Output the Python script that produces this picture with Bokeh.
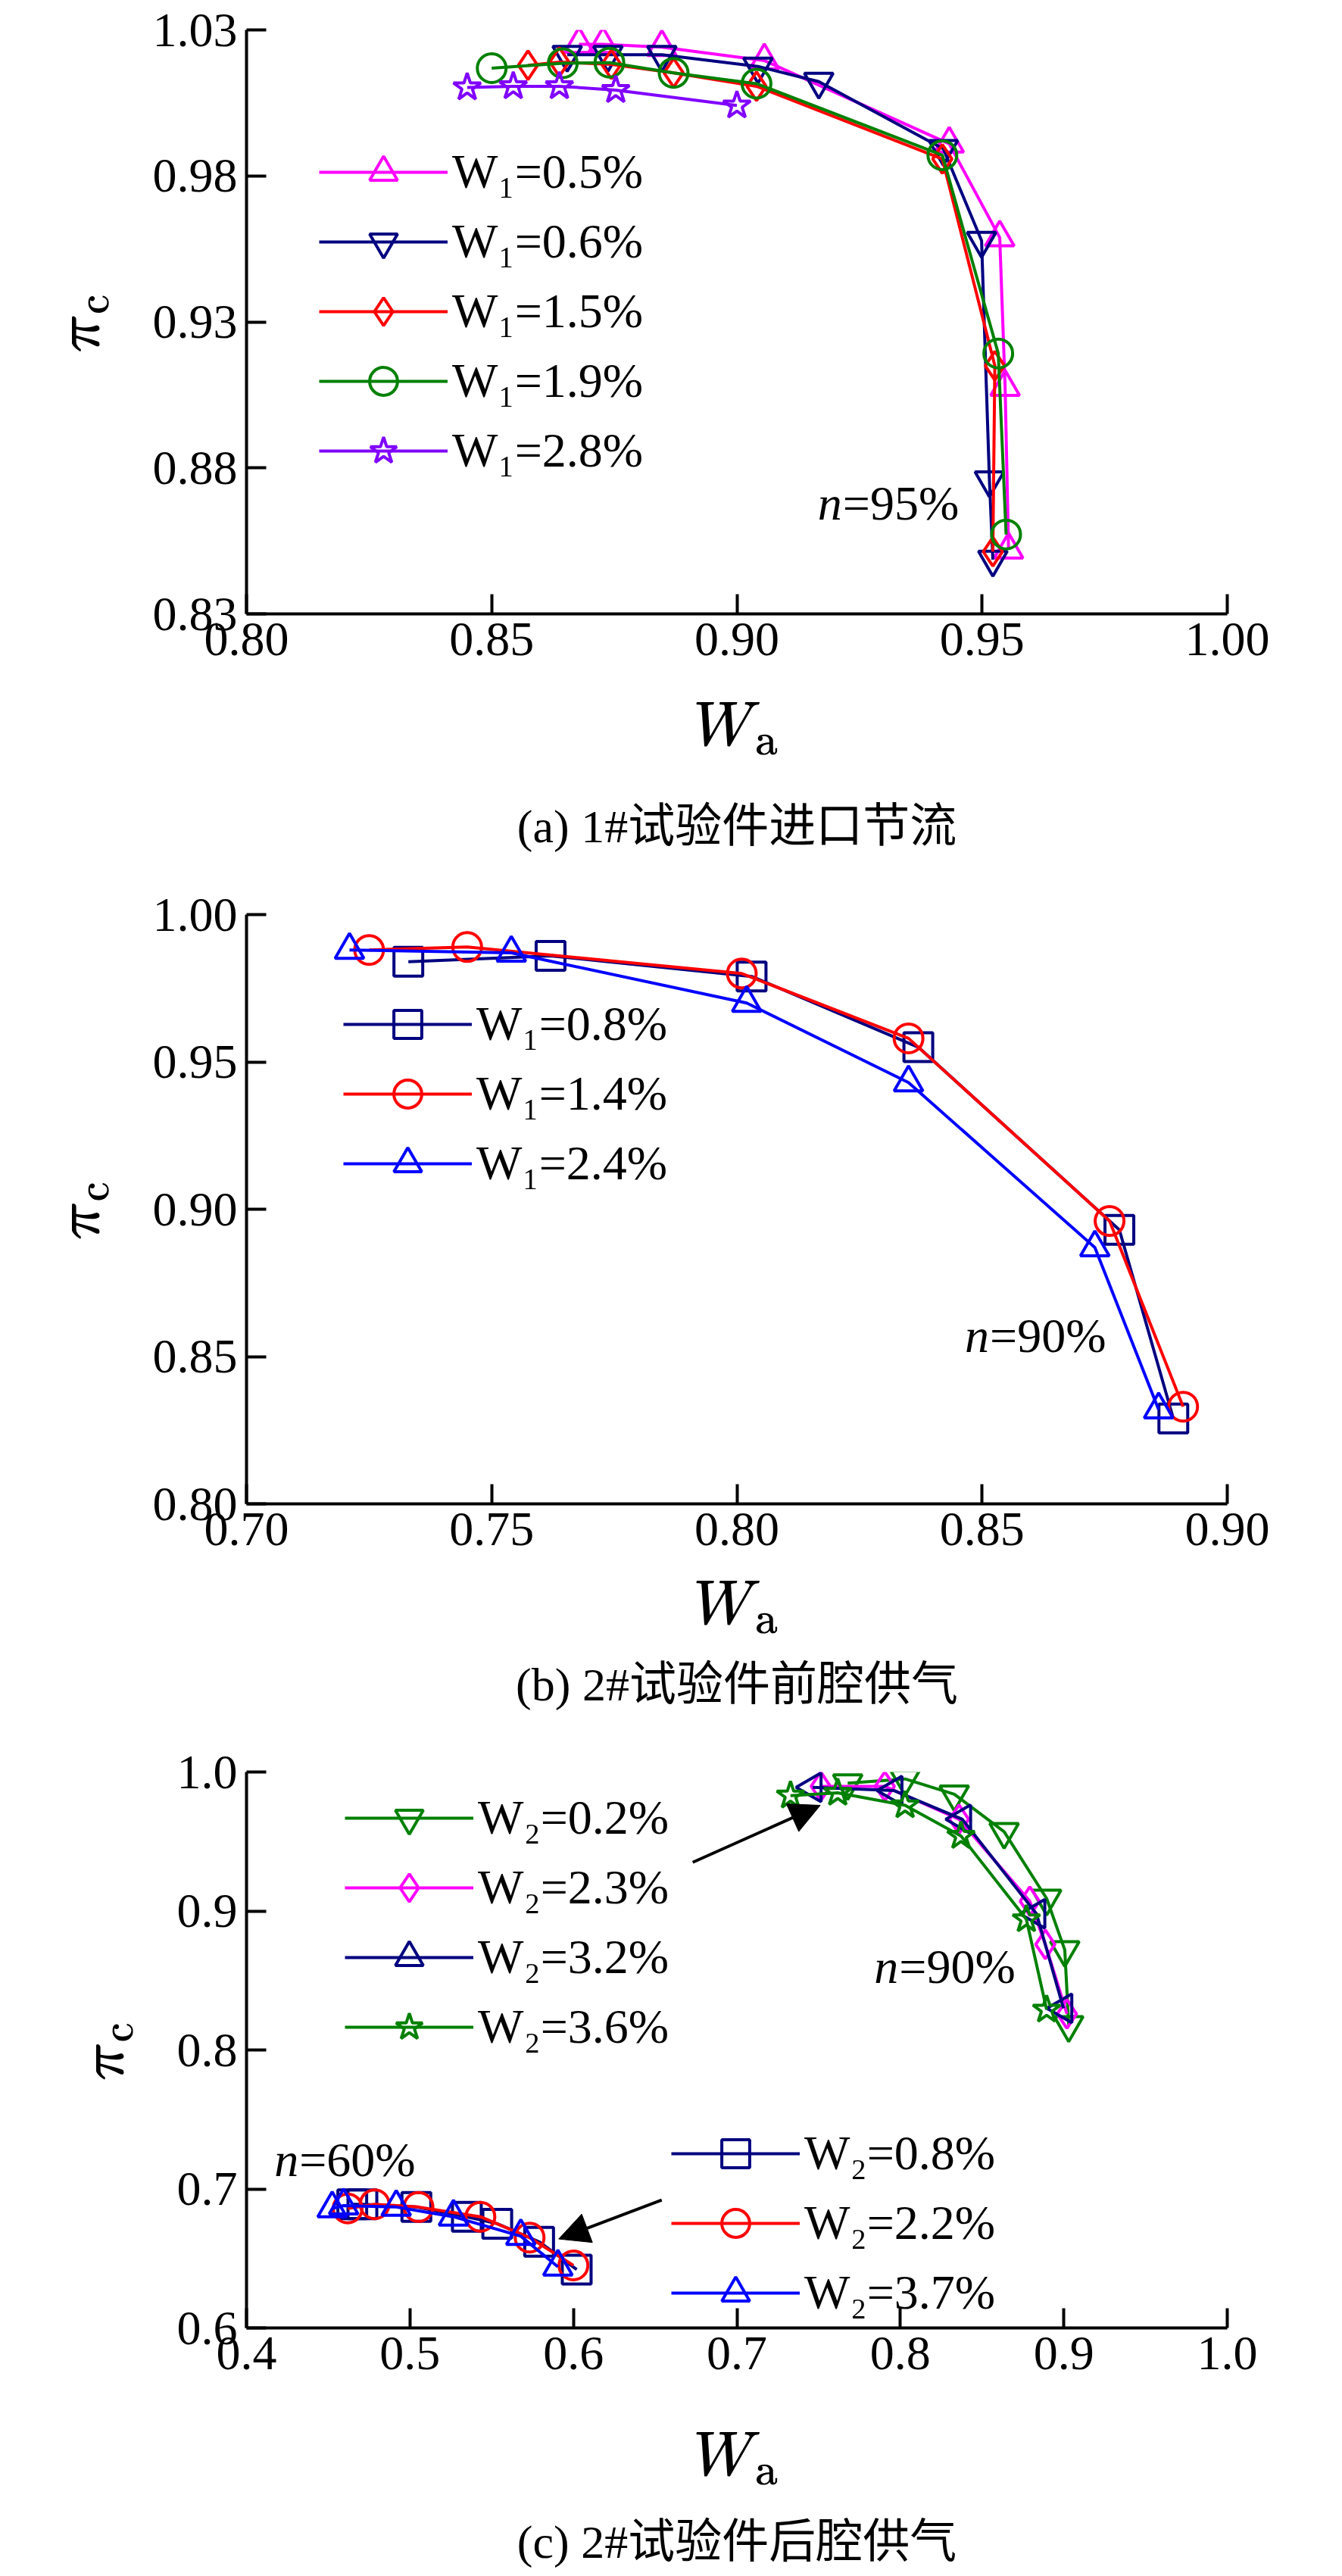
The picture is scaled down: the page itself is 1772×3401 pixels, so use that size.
import math
from bokeh.plotting import figure
from bokeh.layouts import column
from bokeh.models import Legend, LegendItem, Label, Arrow, NormalHead, Range1d, FixedTicker, PrintfTickFormatter, Title
from bokeh.embed import file_html
from bokeh.resources import INLINE

FONT = "Liberation Serif, Noto Sans CJK SC"

# ---- panel (a) data ----
a_names = ["W₁=0.5%", "W₁=0.6%", "W₁=1.5%", "W₁=1.9%", "W₁=2.8%"]
a_x = [
    [0.8678, 0.8727, 0.8847, 0.9056, 0.9433, 0.9536, 0.9547, 0.9554],
    [0.8654, 0.8737, 0.8847, 0.9043, 0.9167, 0.9421, 0.9499, 0.9515, 0.9522],
    [0.8574, 0.8638, 0.8744, 0.8871, 0.9040, 0.9419, 0.9526, 0.9522],
    [0.8500, 0.8645, 0.8740, 0.8871, 0.9040, 0.9419, 0.9533, 0.9549],
    [0.8450, 0.8544, 0.8638, 0.8753, 0.9000],
]
a_y = [
    [1.0251, 1.0251, 1.0241, 1.0195, 0.9910, 0.9589, 0.9077, 0.8520],
    [1.0215, 1.0215, 1.0215, 1.0175, 1.0123, 0.9893, 0.9578, 0.8758, 0.8486],
    [1.0179, 1.0190, 1.0182, 1.0153, 1.0107, 0.9858, 0.9150, 0.8513],
    [1.0169, 1.0186, 1.0188, 1.0153, 1.0116, 0.9871, 0.9192, 0.8572],
    [1.0103, 1.0107, 1.0107, 1.0094, 1.0041],
]
a_colors = ["#FF00FF", "#000080", "#FF0000", "#008000", "#8000FF"]
a_markers = ["triangle", "inverted_triangle", "diamond", "circle", "star"]
a_xticks = [0.80, 0.85, 0.90, 0.95, 1.00]
a_yticks = [0.83, 0.88, 0.93, 0.98, 1.03]

# ---- panel (b) data ----
b_names = ["W₁=0.8%", "W₁=1.4%", "W₁=2.4%"]
b_x = [
    [0.733, 0.762, 0.803, 0.837, 0.878, 0.889],
    [0.725, 0.745, 0.801, 0.835, 0.876, 0.891],
    [0.721, 0.754, 0.802, 0.835, 0.873, 0.886],
]
b_y = [
    [0.984, 0.986, 0.979, 0.955, 0.893, 0.829],
    [0.988, 0.989, 0.980, 0.958, 0.896, 0.833],
    [0.988, 0.987, 0.970, 0.943, 0.887, 0.832],
]
b_colors = ["#000080", "#FF0000", "#0000FF"]
b_markers = ["square", "circle", "triangle"]
b_xticks = [0.70, 0.75, 0.80, 0.85, 0.90]
b_yticks = [0.80, 0.85, 0.90, 0.95, 1.00]

# ---- panel (c) data ----
c1_names = ["W₂=0.2%", "W₂=2.3%", "W₂=3.2%", "W₂=3.6%"]
c1_x = [
    [0.7678, 0.8029, 0.8330, 0.8635, 0.8895, 0.9006, 0.9030],
    [0.7513, 0.7905, 0.8359, 0.8792, 0.8887, 0.9019],
    [0.7464, 0.7959, 0.8379, 0.8833, 0.8998],
    [0.7328, 0.7617, 0.8029, 0.8371, 0.8771, 0.8895],
]
c1_y = [
    [0.992, 0.995, 0.984, 0.957, 0.909, 0.872, 0.818],
    [0.9897, 0.9897, 0.966, 0.907, 0.876, 0.826],
    [0.989, 0.9867, 0.966, 0.898, 0.830],
    [0.983, 0.985, 0.976, 0.954, 0.894, 0.829],
]
c1_colors = ["#008000", "#FF00FF", "#000080", "#008000"]
c1_markers = ["inverted_triangle", "diamond", "triangle", "star"]
c1_angles = [0, 0, math.pi / 2, 0]
c2_names = ["W₂=0.8%", "W₂=2.2%", "W₂=3.7%"]
c2_x = [
    [0.4647, 0.4709, 0.5039, 0.5348, 0.5534, 0.5790, 0.6020],
    [0.4619, 0.4784, 0.5052, 0.5431, 0.5732, 0.6000],
    [0.4524, 0.4594, 0.4916, 0.5266, 0.5678, 0.5905],
]
c2_y = [
    [0.689, 0.689, 0.687, 0.680, 0.675, 0.662, 0.642],
    [0.686, 0.689, 0.687, 0.680, 0.665, 0.645],
    [0.686, 0.688, 0.687, 0.680, 0.666, 0.644],
]
c2_colors = ["#000080", "#FF0000", "#0000FF"]
c2_markers = ["square", "circle", "triangle"]
c_xticks = [0.4, 0.5, 0.6, 0.7, 0.8, 0.9, 1.0]
c_yticks = [0.6, 0.7, 0.8, 0.9, 1.0]

FW = 1295
TS = "64px"


def make_fig(xr, yr, fh, top, xticks, yticks, fmt, caption, xstand, capstand):
    p = figure(frame_width=FW, frame_height=fh, min_border_left=325, min_border_right=120,
               min_border_top=top, min_border_bottom=0,
               x_range=Range1d(*xr), y_range=Range1d(*yr),
               output_backend="svg", toolbar_location=None)
    p.outline_line_color = None
    p.grid.visible = False
    for ax, t in ((p.xaxis[0], xticks), (p.yaxis[0], yticks)):
        ax.ticker = FixedTicker(ticks=t)
        ax.formatter = PrintfTickFormatter(format=fmt)
        ax.axis_line_width = 4
        ax.major_tick_line_width = 4
        ax.major_tick_in = 26
        ax.major_tick_out = 0
        ax.minor_tick_line_color = None
        ax.major_label_text_font = FONT
        ax.major_label_text_font_size = TS
        ax.major_label_text_color = "black"
        ax.axis_line_color = "black"
        ax.major_tick_line_color = "black"
        ax.axis_label_text_font_size = "70px"
        ax.axis_label_text_color = "black"
        ax.axis_label_text_font_style = "normal"
    p.xaxis.major_label_standoff = 12
    p.yaxis.major_label_standoff = 12
    p.xaxis.axis_label = r"$$W_\mathrm{a}$$"
    p.yaxis.axis_label = r"$$\pi_\mathrm{c}$$"
    p.xaxis.axis_label_standoff = xstand
    p.yaxis.axis_label_standoff = 26
    p.add_layout(Title(text=caption, align="center", text_font=FONT, text_font_size="62px",
                       text_font_style="normal", text_color="black", standoff=capstand), "below")
    return p


def n_label(p, x, y, txt):
    p.add_layout(Label(x=x, y=y, text="n", text_font=FONT, text_font_style="italic",
                       text_font_size=TS, text_baseline="middle", text_color="black"))
    p.add_layout(Label(x=x, y=y, text=txt, text_font=FONT, text_font_size=TS,
                       text_baseline="middle", x_offset=33, text_color="black"))


def add_series(p, xs, ys, colors, markers, names, angles=None):
    items = []
    for i in range(len(xs)):
        ang = angles[i] if angles else 0
        l = p.line(xs[i], ys[i], line_color=colors[i], line_width=4)
        s = p.scatter(xs[i], ys[i], marker=markers[i], size=38, angle=ang,
                      line_color=colors[i], fill_color=None, line_width=4)
        items.append(LegendItem(label=names[i], renderers=[l, s]))
    return items


def add_legend(p, items, loc):
    lg = Legend(items=items, location=loc, background_fill_alpha=0, border_line_color=None,
                label_text_font=FONT, label_text_font_size=TS, label_text_color="black",
                glyph_width=170, glyph_height=92, label_height=92,
                spacing=0, padding=0, margin=0, label_standoff=6)
    p.add_layout(lg, "center")


# (a)
fha = 771
pa = make_fig((0.80, 1.00), (0.83, 1.03), fha, 39, a_xticks, a_yticks, "%.2f",
              "(a) 1#试验件进口节流", 59, 95)
it = add_series(pa, a_x, a_y, a_colors, a_markers, a_names)
add_legend(pa, it, (96, 169))
n_label(pa, 0.9165, 0.868, "=95%")

# (b)
fhb = 778
pb = make_fig((0.70, 0.90), (0.80, 1.00), fhb, 35, b_xticks, b_yticks, "%.2f",
              "(b) 2#试验件前腔供气", 44, 40)
it = add_series(pb, b_x, b_y, b_colors, b_markers, b_names)
add_legend(pb, it, (128, 403))
n_label(pb, 0.8465, 0.857, "=90%")

# (c)
fhc = 734
pc = make_fig((0.4, 1.0), (0.6, 1.0), fhc, 62, c_xticks, c_yticks, "%.1f",
              "(c) 2#试验件后腔供气", 80, 56)
it1 = add_series(pc, c1_x, c1_y, c1_colors, c1_markers, c1_names, c1_angles)
it2 = add_series(pc, c2_x, c2_y, c2_colors, c2_markers, c2_names)
add_legend(pc, it1, (130, 351))
add_legend(pc, it2, (561, 0))
n_label(pc, 0.784, 0.86, "=90%")
n_label(pc, 0.417, 0.721, "=60%")
for (x0, y0, x1, y1) in [(0.673, 0.935, 0.751, 0.976), (0.654, 0.692, 0.591, 0.664)]:
    pc.add_layout(Arrow(end=NormalHead(size=40, fill_color="black", line_color="black"),
                        x_start=x0, y_start=y0, x_end=x1, y_end=y1, line_width=4, line_color="black"))

lay = column(pa, pb, pc, spacing=0)
open("out.html", "w").write(file_html(lay, INLINE))
